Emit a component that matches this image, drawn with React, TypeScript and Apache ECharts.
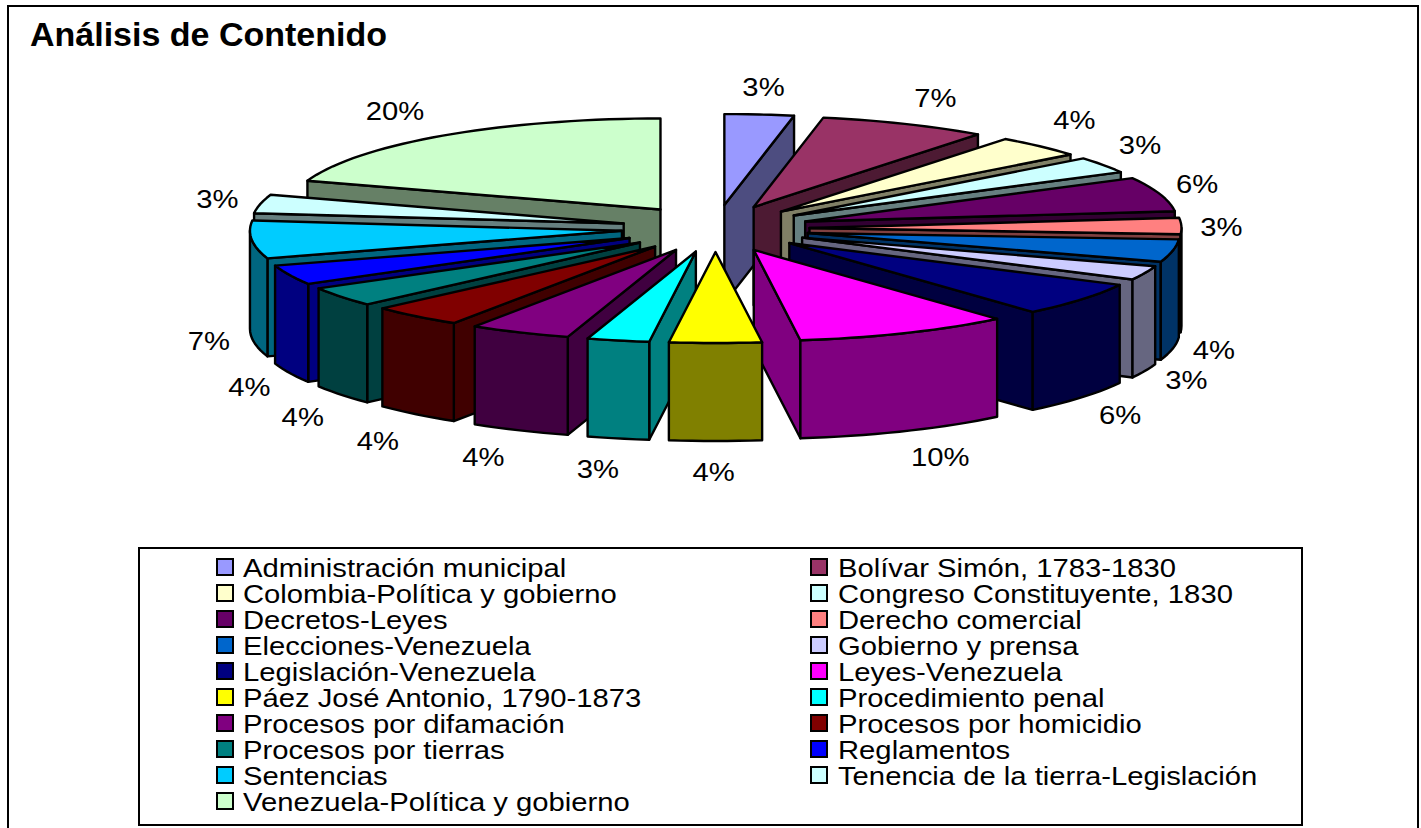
import React, { useEffect, useRef } from "react";
import * as echarts from "echarts";

const TITLE = "Análisis de Contenido";
const categories = [
  "Administración municipal", "Bolívar Simón, 1783-1830", "Colombia-Política y gobierno",
  "Congreso Constituyente, 1830", "Decretos-Leyes", "Derecho comercial", "Elecciones-Venezuela",
  "Gobierno y prensa", "Legislación-Venezuela", "Leyes-Venezuela", "Páez José Antonio, 1790-1873",
  "Procedimiento penal", "Procesos por difamación", "Procesos por homicidio", "Procesos por tierras",
  "Reglamentos", "Sentencias", "Tenencia de la tierra-Legislación", "Venezuela-Política y gobierno",
];
const values = [3.0, 7.3, 3.9, 2.9, 6.1, 2.9, 4.0, 2.5, 6.05, 9.35, 4.0, 2.7, 4.4, 4.0, 3.5, 3.5, 6.7, 3.3, 19.9];
const percentLabels = ["3%", "7%", "4%", "3%", "6%", "3%", "4%", "3%", "6%", "10%", "4%", "3%", "4%", "4%", "4%", "4%", "7%", "3%", "20%"];
const colors = [
  "#9999ff", "#993366", "#ffffcc", "#ccffff", "#660066", "#ff8080", "#0066cc", "#ccccff", "#000080", "#ff00ff",
  "#ffff00", "#00ffff", "#800080", "#800000", "#008080", "#0000ff", "#00ccff", "#ccffff", "#ccffcc",
];
const labelNudge: [number, number][] = [
  [0, 3], [13, 2], [4, -4], [0, -3], [-5, -1], [-4, 2], [-2, -6], [1, -5], [4, -3], [17, -4],
  [-2, -1], [-11, -1], [-18, -3], [-10, 1], [-3, 2], [0, 0], [1, -2], [0, 2], [-22, 0],
];

// Pie layout (pixels): tilted, exploded pie projected orthographically
const CX = 715.5, CY = 228.5, RX = 372, RY = 91, EX = 94, EY = 23.5, WALL = 98;
const FONT = "'Liberation Sans', Arial, sans-serif";
// The reference's lettering is horizontally stretched
const TEXT_PX = 26, TEXT_STRETCH = 1.125;
const LEGEND_TOP = 567, LEGEND_ROW = 26, LEGEND_SWATCH = [217, 811], LEGEND_TEXT = [243, 838];
const total = values.reduce((a, b) => a + b, 0);
const starts = values.map((_, i) => values.slice(0, i).reduce((a, b) => a + b, 0));
const rad = (d: number) => (d * Math.PI) / 180;

function darken(hex: string) {
  const n = parseInt(hex.slice(1), 16);
  const f = (v: number) => Math.round(v / 2).toString(16).padStart(2, "0");
  return "#" + f((n >> 16) & 255) + f((n >> 8) & 255) + f(n & 255);
}

function makeRenderItem(index: number) {
  return (_params: any, api: any) => {
    const v = api.value(0);
    const a = (starts[index] / total) * 360;
    const b = a + (v / total) * 360;
    const mid = (a + b) / 2;
    const tip: [number, number] = [CX + EX * Math.sin(rad(mid)), CY - EY * Math.cos(rad(mid))];
    const onRim = (deg: number): [number, number] => [tip[0] + RX * Math.sin(rad(deg)), tip[1] - RY * Math.cos(rad(deg))];
    const down = (p: [number, number]): [number, number] => [p[0], p[1] + WALL];
    const arc = (from: number, to: number) => {
      const pts: [number, number][] = [];
      const n = Math.max(1, Math.ceil((to - from) / 2));
      for (let i = 0; i <= n; i++) pts.push(onRim(from + ((to - from) * i) / n));
      return pts;
    };
    const top = colors[index];
    const side = darken(top);
    const face = (points: [number, number][], fill: string) => ({
      type: "polygon",
      shape: { points },
      style: { fill, stroke: "#000", lineWidth: 2.4, lineJoin: "round" },
    });
    const children: any[] = [];
    if (Math.sin(rad(a)) < -1e-6) children.push(face([tip, onRim(a), down(onRim(a)), down(tip)], side));
    if (Math.sin(rad(b)) > 1e-6) children.push(face([tip, onRim(b), down(onRim(b)), down(tip)], side));
    const w0 = Math.max(a, 90), w1 = Math.min(b, 270);
    if (w1 > w0) {
      const rim = arc(w0, w1);
      children.push(face([...rim, ...rim.slice().reverse().map(down)], side));
    }
    children.push(face([tip, ...arc(a, b)], top));
    const s = Math.sin(rad(mid)), c = Math.cos(rad(mid));
    const lx = CX + 510 * s + labelNudge[index][0];
    const ly = (c >= 0 ? CY - 145 * c : CY + 100 - 145 * c) + labelNudge[index][1];
    children.push({
      type: "text",
      x: lx,
      y: ly,
      scaleX: TEXT_STRETCH,
      style: { text: percentLabels[index], fill: "#000", font: `${TEXT_PX}px ${FONT}`, align: "center", verticalAlign: "middle" },
    });
    return { type: "group", children };
  };
}

const order = values
  .map((v, i) => ({ i, depth: Math.cos(rad(((starts[i] + v / 2) / total) * 360)) }))
  .sort((p, q) => q.depth - p.depth)
  .map((p) => p.i);

const legendGraphics = categories.flatMap((name, i) => {
  const col = i % 2;
  const y = LEGEND_TOP + LEGEND_ROW * Math.floor(i / 2);
  return [
    {
      type: "rect",
      silent: true,
      shape: { x: LEGEND_SWATCH[col], y: y - 8, width: 16, height: 16 },
      style: { fill: colors[i], stroke: "#000", lineWidth: 2 },
    },
    {
      type: "text",
      silent: true,
      x: LEGEND_TEXT[col],
      y: y + 1,
      scaleX: TEXT_STRETCH,
      style: { text: name, fill: "#000", font: `${TEXT_PX}px ${FONT}`, align: "left", verticalAlign: "middle" },
    },
  ];
});

export default function App() {
  const ref = useRef<HTMLDivElement>(null);
  useEffect(() => {
    document.body.style.margin = "0";
    const chart = echarts.init(ref.current!, undefined, { renderer: "svg" });
    chart.setOption({
      animation: false,
      backgroundColor: "#fff",
      title: {
        text: TITLE,
        left: 30,
        top: 17,
        padding: 0,
        textStyle: { fontFamily: FONT, fontSize: 34, fontWeight: "bold", color: "#000" },
      },
      graphic: [
        { type: "rect", z: 0, silent: true, shape: { x: 8, y: 6, width: 1410, height: 900 }, style: { fill: "none", stroke: "#000", lineWidth: 2 } },
        { type: "rect", z: 0, silent: true, shape: { x: 139, y: 548, width: 1163, height: 277 }, style: { fill: "#fff", stroke: "#000", lineWidth: 2 } },
        ...legendGraphics,
      ],
      series: categories.map((name, i) => ({
        type: "custom",
        name,
        coordinateSystem: "none",
        z: 10 + order.indexOf(i),
        itemStyle: { color: colors[i] },
        data: [{ name, value: [values[i]] }],
        renderItem: makeRenderItem(i),
      })),
    });
    return () => chart.dispose();
  }, []);
  return <div ref={ref} style={{ width: 1421, height: 828 }} />;
}
